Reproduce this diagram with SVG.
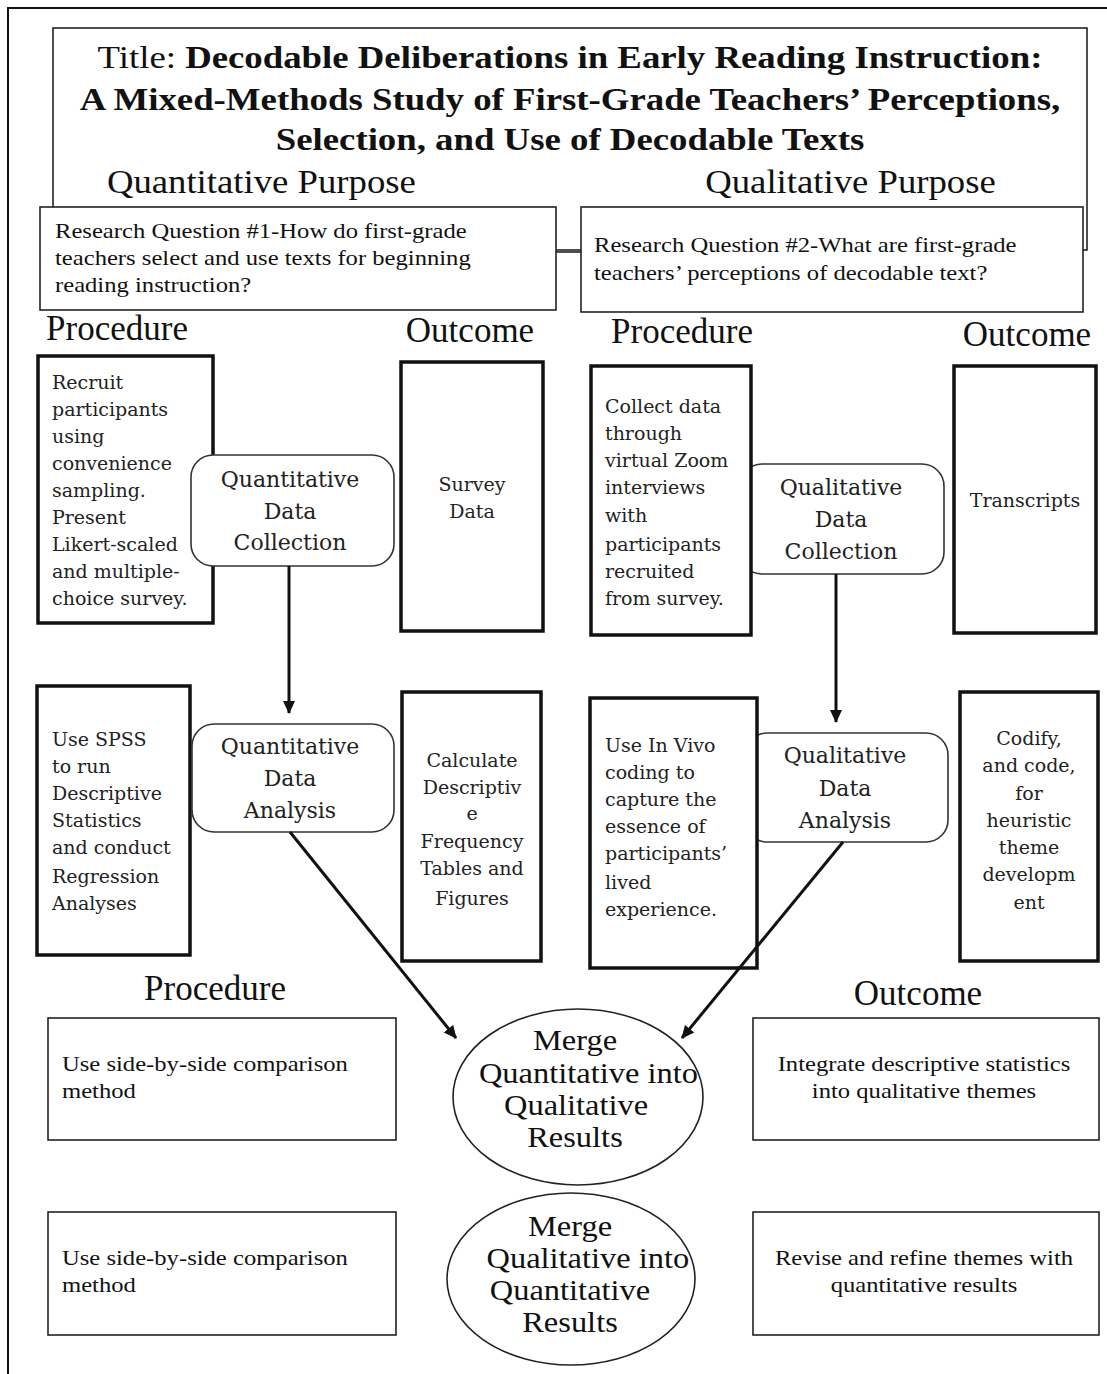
<svg xmlns="http://www.w3.org/2000/svg" width="1107" height="1374" viewBox="0 0 1107 1374">
<style>
.tnr{font-family:"Liberation Serif","Times New Roman",serif;fill:#111}
.box{font-family:"DejaVu Serif","Liberation Serif",serif;font-size:19px;fill:#222}
.rbt{font-family:"DejaVu Serif","Liberation Serif",serif;font-size:22px;fill:#222}
.thick{fill:#fff;stroke:#111;stroke-width:3.5}
.thin{fill:#fff;stroke:#222;stroke-width:1.6}
.rnd{fill:#fff;stroke:#333;stroke-width:1.6}
.con{fill:none;stroke:#111;stroke-width:3}
</style>
<defs>
<marker id="ah" markerUnits="userSpaceOnUse" markerWidth="14" markerHeight="14" refX="12" refY="7" orient="auto">
<path d="M0,1 L13,7 L0,13 z" fill="#111"/>
</marker>
</defs>
<rect width="1107" height="1374" fill="#fff"/>
<g id="frame">
<path d="M8,1374 L8,8 L1107,8" fill="none" stroke="#111" stroke-width="2"/>
</g>
<g id="title">
<rect x="53" y="28" width="1034" height="222" class="thin"/>
<g transform="matrix(1.15,0,0,1,-85.5,0)" class="tnr" font-size="32" text-anchor="middle">
<text x="570" y="68"><tspan>Title: </tspan><tspan font-weight="bold">Decodable Deliberations in Early Reading Instruction:</tspan></text>
<text x="570" y="110" font-weight="bold">A Mixed-Methods Study of First-Grade Teachers’ Perceptions,</text>
<text x="570" y="150" font-weight="bold">Selection, and Use of Decodable Texts</text>
</g>
<g transform="matrix(1.08,0,0,1,0,0)" class="tnr" font-size="34">
<text x="99" y="193">Quantitative Purpose</text>
<text x="653" y="193">Qualitative Purpose</text>
</g>
</g>
<g id="rq1">
<rect x="40" y="207" width="516" height="103" class="thin"/>
<g transform="matrix(1.12,0,0,1,-6.6,0)" class="tnr" font-size="22">
<text x="55" y="238">Research Question #1-How do first-grade</text>
<text x="55" y="265">teachers select and use texts for beginning</text>
<text x="55" y="292">reading instruction?</text>
</g>
</g>
<g id="rq2">
<rect x="581" y="207" width="502" height="105" class="thin"/>
<g transform="matrix(1.12,0,0,1,-71.28,0)" class="tnr" font-size="22">
<text x="594" y="252">Research Question #2-What are first-grade</text>
<text x="594" y="280">teachers’ perceptions of decodable text?</text>
</g>
</g>
<g id="headings" class="tnr" font-size="35">
<text x="117" y="340" text-anchor="middle">Procedure</text>
<text x="470" y="342" text-anchor="middle">Outcome</text>
<text x="682" y="343" text-anchor="middle">Procedure</text>
<text x="1027" y="346" text-anchor="middle">Outcome</text>
<text x="215" y="1000" text-anchor="middle">Procedure</text>
<text x="918" y="1005" text-anchor="middle">Outcome</text>
</g>
<g id="proc-quant-collect">
<rect x="38" y="356" width="175" height="267" class="thick"/>
<text class="box"><tspan x="52" y="389">Recruit</tspan><tspan x="52" y="416">participants</tspan><tspan x="52" y="443">using</tspan><tspan x="52" y="470">convenience</tspan><tspan x="52" y="497">sampling.</tspan><tspan x="52" y="524">Present</tspan><tspan x="52" y="551">Likert-scaled</tspan><tspan x="52" y="578">and multiple-</tspan><tspan x="52" y="605">choice survey.</tspan></text>
</g>
<g id="quant-collect">
<rect x="191" y="455" width="203" height="111" rx="22" class="rnd"/>
<text class="rbt" text-anchor="middle"><tspan x="290" y="487">Quantitative</tspan><tspan x="290" y="519">Data</tspan><tspan x="290" y="550">Collection</tspan></text>
</g>
<g id="survey-data">
<rect x="401" y="362" width="142" height="269" class="thick"/>
<text class="box" text-anchor="middle"><tspan x="472" y="491">Survey</tspan><tspan x="472" y="518">Data</tspan></text>
</g>
<g id="qual-collect">
<rect x="740" y="464" width="204" height="110" rx="22" class="rnd"/>
<text class="rbt" text-anchor="middle"><tspan x="841" y="495">Qualitative</tspan><tspan x="841" y="527">Data</tspan><tspan x="841" y="559">Collection</tspan></text>
</g>
<g id="proc-qual-collect">
<rect x="591" y="366" width="160" height="269" class="thick"/>
<text class="box"><tspan x="605" y="413">Collect data</tspan><tspan x="605" y="440">through</tspan><tspan x="605" y="467">virtual Zoom</tspan><tspan x="605" y="494">interviews</tspan><tspan x="605" y="522">with</tspan><tspan x="605" y="551">participants</tspan><tspan x="605" y="578">recruited</tspan><tspan x="605" y="605">from survey.</tspan></text>
</g>
<g id="transcripts">
<rect x="954" y="366" width="142" height="267" class="thick"/>
<text class="box" x="1025" y="507" text-anchor="middle">Transcripts</text>
</g>
<g id="proc-quant-analysis">
<rect x="37" y="686" width="153" height="269" class="thick"/>
<text class="box"><tspan x="52" y="746">Use SPSS</tspan><tspan x="52" y="773">to run</tspan><tspan x="52" y="800">Descriptive</tspan><tspan x="52" y="827">Statistics</tspan><tspan x="52" y="854">and conduct</tspan><tspan x="52" y="883">Regression</tspan><tspan x="52" y="910">Analyses</tspan></text>
</g>
<g id="quant-analysis">
<rect x="192" y="724" width="202" height="108" rx="22" class="rnd"/>
<text class="rbt" text-anchor="middle"><tspan x="290" y="754">Quantitative</tspan><tspan x="290" y="786">Data</tspan><tspan x="290" y="818">Analysis</tspan></text>
</g>
<g id="calculate">
<rect x="402" y="692" width="139" height="269" class="thick"/>
<text class="box" text-anchor="middle"><tspan x="472" y="767">Calculate</tspan><tspan x="472" y="794">Descriptiv</tspan><tspan x="472" y="820">e</tspan><tspan x="472" y="848">Frequency</tspan><tspan x="472" y="875">Tables and</tspan><tspan x="472" y="905">Figures</tspan></text>
</g>
<g id="qual-analysis">
<rect x="745" y="733" width="203" height="109" rx="22" class="rnd"/>
<text class="rbt" text-anchor="middle"><tspan x="845" y="763">Qualitative</tspan><tspan x="845" y="796">Data</tspan><tspan x="845" y="828">Analysis</tspan></text>
</g>
<g id="proc-qual-analysis">
<rect x="590" y="698" width="167" height="270" class="thick"/>
<text class="box"><tspan x="605" y="752">Use In Vivo</tspan><tspan x="605" y="779">coding to</tspan><tspan x="605" y="806">capture the</tspan><tspan x="605" y="833">essence of</tspan><tspan x="605" y="860">participants’</tspan><tspan x="605" y="889">lived</tspan><tspan x="605" y="916">experience.</tspan></text>
</g>
<g id="codify">
<rect x="960" y="692" width="138" height="269" class="thick"/>
<text class="box" text-anchor="middle"><tspan x="1029" y="745">Codify,</tspan><tspan x="1029" y="772">and code,</tspan><tspan x="1029" y="800">for</tspan><tspan x="1029" y="827">heuristic</tspan><tspan x="1029" y="854">theme</tspan><tspan x="1029" y="881">developm</tspan><tspan x="1029" y="909">ent</tspan></text>
</g>
<g id="proc-merge1">
<rect x="48" y="1018" width="348" height="122" class="thin"/>
<g transform="matrix(1.12,0,0,1,-7.44,0)" class="tnr" font-size="22">
<text x="62" y="1071">Use side-by-side comparison</text>
<text x="62" y="1098">method</text>
</g>
</g>
<g id="merge1">
<ellipse cx="578" cy="1097" rx="125" ry="88" class="thin"/>
<g transform="matrix(1.12,0,0,1,-69,0)" class="tnr" font-size="29" text-anchor="middle">
<text x="575" y="1050">Merge</text>
<text x="587" y="1083">Quantitative into</text>
<text x="576" y="1115">Qualitative</text>
<text x="575" y="1147">Results</text>
</g>
</g>
<g id="out-merge1">
<rect x="753" y="1018" width="346" height="122" class="thin"/>
<g transform="matrix(1.12,0,0,1,-110.88,0)" class="tnr" font-size="22" text-anchor="middle">
<text x="924" y="1071">Integrate descriptive statistics</text>
<text x="924" y="1098">into qualitative themes</text>
</g>
</g>
<g id="proc-merge2">
<rect x="48" y="1212" width="348" height="123" class="thin"/>
<g transform="matrix(1.12,0,0,1,-7.44,0)" class="tnr" font-size="22">
<text x="62" y="1265">Use side-by-side comparison</text>
<text x="62" y="1292">method</text>
</g>
</g>
<g id="merge2">
<ellipse cx="571" cy="1279" rx="124" ry="86" class="thin"/>
<g transform="matrix(1.12,0,0,1,-68.4,0)" class="tnr" font-size="29" text-anchor="middle">
<text x="570" y="1236">Merge</text>
<text x="586" y="1268">Qualitative into</text>
<text x="570" y="1300">Quantitative</text>
<text x="570" y="1332">Results</text>
</g>
</g>
<g id="out-merge2">
<rect x="753" y="1212" width="346" height="123" class="thin"/>
<g transform="matrix(1.12,0,0,1,-110.88,0)" class="tnr" font-size="22" text-anchor="middle">
<text x="924" y="1265">Revise and refine themes with</text>
<text x="924" y="1292">quantitative results</text>
</g>
</g>
<g id="connectors">
<line x1="556" y1="252" x2="581" y2="252" stroke="#222" stroke-width="1.6"/>
<line x1="289" y1="566" x2="289" y2="713" class="con" marker-end="url(#ah)"/>
<line x1="836" y1="574" x2="836" y2="722" class="con" marker-end="url(#ah)"/>
<line x1="290" y1="832" x2="456" y2="1038" class="con" marker-end="url(#ah)"/>
<line x1="843" y1="842" x2="682" y2="1038" class="con" marker-end="url(#ah)"/>
</g>
</svg>
